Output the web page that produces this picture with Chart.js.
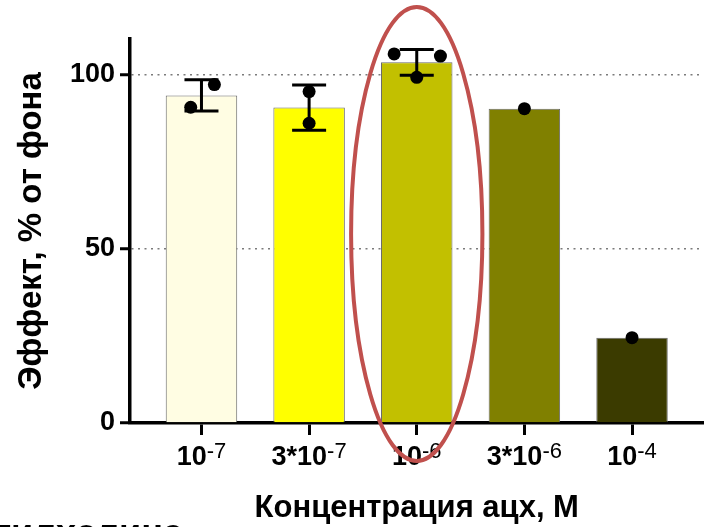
<!DOCTYPE html>
<html>
<head>
<meta charset="utf-8">
<script src="https://cdn.jsdelivr.net/npm/chart.js@4"></script>
<style>
  html, body { margin: 0; padding: 0; background: #fff; }
  #wrap { width: 710px; height: 527px; position: relative; }
</style>
</head>
<body>
<div id="wrap"><canvas id="c" width="710" height="527"></canvas></div>
<script>
// Concentration labels: mantissa part and superscript exponent
const tickBases = ['10', '3*10', '10', '3*10', '10'];
const tickExps  = ['-7', '-7', '-6', '-6', '-4'];

// Mean effect (% of baseline) and SD per concentration
const means = [94.1, 90.6, 103.6, 90.3, 24.5];
const sds   = [4.5, 6.5, 3.7, 0, 0];

// Individual replicate values
const replicates = [
  [97.2, 90.7],
  [95.2, 86.1],
  [106.0, 105.4, 99.3],
  [90.3],
  [24.5]
];

const yTicks = [0, 50, 100];

const barColors = ['#FFFDE3', '#FFFF00', '#C2C000', '#808000', '#3B3B00'];

const FONT = "'Liberation Sans', Arial, Helvetica, sans-serif";

// horizontal scatter of replicate dots within each bar (x units)
const jitter = [[0.12, -0.10], [0, 0], [-0.21, 0.22, 0], [0], [0]];

// highlighted group outline, in data units
const highlight = { index: 2, center: 54.3, halfWidth: 0.61, halfHeight: 65.2 };

const points = [];
replicates.forEach((vals, i) => vals.forEach((v, j) => points.push({ x: i + jitter[i][j], y: v })));

const errorBars = {
  id: 'errorBars',
  afterDatasetDraw(chart, args) {
    if (args.index !== 0) return;
    const { ctx, scales: { x: xs, y: ys } } = chart;
    ctx.save();
    ctx.strokeStyle = '#000';
    ctx.lineWidth = 3;
    ctx.lineCap = 'butt';
    means.forEach((m, i) => {
      if (!sds[i]) return;
      const x = xs.getPixelForValue(i);
      const yt = ys.getPixelForValue(m + sds[i]);
      const yb = ys.getPixelForValue(m - sds[i]);
      ctx.beginPath();
      ctx.moveTo(x, yt); ctx.lineTo(x, yb);
      ctx.moveTo(x - 17, yt); ctx.lineTo(x + 17, yt);
      ctx.moveTo(x - 17, yb); ctx.lineTo(x + 17, yb);
      ctx.stroke();
    });
    ctx.restore();
  }
};

const decorations = {
  id: 'decorations',
  afterDraw(chart) {
    const { ctx, scales: { x: xs, y: ys } } = chart;
    ctx.save();
    ctx.fillStyle = '#000';
    ctx.textBaseline = 'alphabetic';
    ctx.textAlign = 'left';
    // concentration labels with superscript exponents
    const baseFont = 'bold 27px ' + FONT;
    const supFont = '22px ' + FONT;
    tickBases.forEach((b, i) => {
      ctx.font = baseFont;
      const wb = ctx.measureText(b).width;
      ctx.font = supFont;
      const we = ctx.measureText(tickExps[i]).width;
      const x0 = xs.getPixelForValue(i) - (wb + we) / 2;
      const baseY = xs.top + 42;
      ctx.font = baseFont;
      ctx.fillText(b, x0, baseY);
      ctx.font = supFont;
      ctx.fillText(tickExps[i], x0 + wb, baseY - 7);
    });

    // caption below the axis title (mostly below the page edge)
    ctx.font = 'bold 36px ' + FONT;
    ctx.textAlign = 'right';
    ctx.fillText('ацетилхолина', 183, 545);

    // outline around the highlighted group
    const cx = xs.getPixelForValue(highlight.index);
    const rx = xs.getPixelForValue(highlight.index + highlight.halfWidth) - cx;
    const cy = ys.getPixelForValue(highlight.center);
    const ry = ys.getPixelForValue(highlight.center - highlight.halfHeight) - cy;
    ctx.beginPath();
    ctx.ellipse(cx, cy, rx, ry, 0, 0, Math.PI * 2);
    ctx.strokeStyle = '#C0504D';
    ctx.lineWidth = 4;
    ctx.stroke();
    ctx.restore();
  }
};

new Chart(document.getElementById('c'), {
  data: {
    datasets: [
      {
        type: 'bar',
        data: means.map((v, i) => ({ x: i, y: v })),
        backgroundColor: barColors,
        borderColor: '#6a6a6a',
        borderWidth: 1,
        categoryPercentage: 1,
        barPercentage: 0.664,
        order: 1
      },
      {
        type: 'scatter',
        data: points,
        pointRadius: 6.5,
        pointHoverRadius: 6.5,
        backgroundColor: '#000',
        borderWidth: 0,
        order: 0
      }
    ]
  },
  options: {
    responsive: false,
    animation: false,
    devicePixelRatio: 1,
    layout: { padding: { top: 39, right: 2, left: 0, bottom: 0 } },
    plugins: { legend: { display: false }, tooltip: { enabled: false } },
    scales: {
      x: {
        type: 'linear',
        min: -0.664,
        max: 4.664,
        offset: false,
        afterBuildTicks: s => { s.ticks = tickBases.map((_, i) => ({ value: i })); },
        afterFit: s => { s.height = 104; },
        ticks: { callback: () => '' },
        grid: { offset: false, drawOnChartArea: false, drawTicks: true, tickLength: 12, tickWidth: 3, tickColor: '#000' },
        border: { display: true, color: '#000', width: 3.5 },
        title: {
          display: true,
          text: 'Концентрация ацх, М',
          color: '#000',
          font: { family: FONT, size: 31, weight: 'bold', lineHeight: 1.2 },
          padding: { top: 0, bottom: 0 }
        }
      },
      y: {
        min: 0,
        max: 110.3,
        afterBuildTicks: s => { s.ticks = yTicks.map(v => ({ value: v })); },
        afterFit: s => { s.width = 130; },
        ticks: { color: '#000', padding: 5, font: { family: FONT, size: 27, weight: 'bold' } },
        grid: {
          color: c => (c.tick && c.tick.value === 0) ? 'rgba(0,0,0,0)' : '#7b7b7b',
          lineWidth: 1.5,
          drawTicks: true,
          tickLength: 10,
          tickWidth: 3,
          tickColor: '#000'
        },
        border: { display: true, color: '#000', width: 3.5, dash: [2, 4.5] },
        title: {
          display: true,
          text: 'Эффект, % от фона',
          color: '#000',
          font: { family: FONT, size: 33, weight: 'bold', lineHeight: 1.2 },
          padding: { top: 12.3, bottom: 0 }
        }
      }
    }
  },
  plugins: [errorBars, decorations]
});
</script>
</body>
</html>
